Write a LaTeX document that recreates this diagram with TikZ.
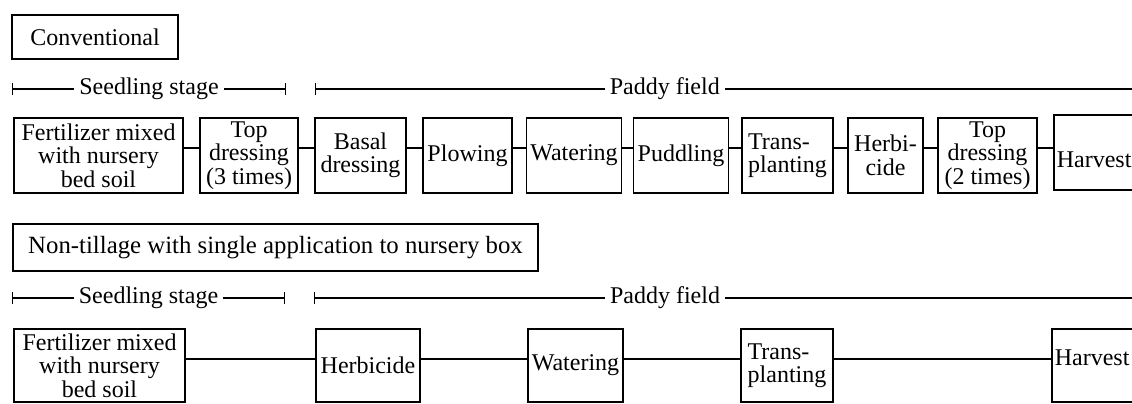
\documentclass[tikz,border=0pt]{standalone}
\usepackage{fontspec}
\setmainfont{Liberation Serif}
\usetikzlibrary{arrows.meta}

\tikzset{
  stepbox/.style={draw, line width=0.8pt, align=center, inner xsep=2pt, inner ysep=0.5pt,
    font=\fontsize{12}{11.75}\selectfont},
  titlebox/.style={draw, line width=0.8pt, inner sep=0pt,
    font=\fontsize{12}{11.75}\selectfont},
  span/.style={line width=0.6pt},
  spanlab/.style={fill=white, inner xsep=2.5pt, inner ysep=1pt,
    font=\fontsize{12}{11.75}\selectfont},
  link/.style={line width=0.7pt}
}

\begin{document}
\begin{tikzpicture}[x=0.5pt,y=-0.5pt]
    \useasboundingbox (0,0) rectangle (1132,403);
    \fill[white] (0,0) rectangle (1132,403);
    \clip (0,0) rectangle (1132,403);

    % Conventional
    \node[titlebox, minimum width=83pt, minimum height=22pt] (conv) at (95,37) {Conventional};
    % Stages
    \coordinate (sa1) at (12,89);
    \coordinate (sb1) at (286,89);
    \coordinate (pa1) at (315,89);
    \coordinate (pb1) at (1140,89);
    \draw[span, {Bar[width=6pt]}-{Bar[width=6pt]}] (sa1) -- node[spanlab] (seed1) {Seedling stage} (sb1);
    \draw[span, {Bar[width=6pt]}-] (pa1) -- node[spanlab, pos=0.424] (paddy1) {Paddy field} (pb1);
    % Steps
    \node[stepbox, minimum width=84.5pt, minimum height=37.5pt] (fert1) at (98.5,155.5) {Fertilizer mixed\\with nursery\\bed soil};
    \node[stepbox, minimum width=49pt, minimum height=37.5pt] (top1) at (249,155.5) {Top\\dressing\\(3 times)};
    \node[stepbox, minimum width=45.5pt, minimum height=37.5pt] (basal1) at (360.5,155.5) {Basal\\dressing};
    \node[stepbox, minimum width=44.5pt, minimum height=37.5pt] (plow1) at (467.5,155.5) {Plowing};
    \node[stepbox, minimum width=46pt, minimum height=37.5pt] (water1) at (574,155.5) {Watering};
    \node[stepbox, minimum width=46pt, minimum height=37.5pt] (puddle1) at (681,155.5) {Puddling};
    \node[stepbox, align=left, minimum width=45.5pt, minimum height=37.5pt] (trans1) at (787.5,155.5) {Trans-\\planting};
    \node[stepbox, minimum width=37.5pt, minimum height=37.5pt] (herb1) at (885.5,155.5) {Herbi-\\cide};
    \node[stepbox, minimum width=49.5pt, minimum height=37.5pt] (top2) at (987.5,155.5) {Top\\dressing\\(2 times)};
    \node[stepbox, anchor=west, inner xsep=1.5pt, text height=15.5pt, minimum width=48pt, minimum height=37.5pt] (harv1) at (1053,152.5) {Harvest\hspace{12pt}};
    \foreach \a/\b in {fert1/top1, top1/basal1, basal1/plow1, plow1/water1, water1/puddle1,
                       puddle1/trans1, trans1/herb1, herb1/top2, top2/harv1}
      \draw[link] ([yshift=3.75pt]\a.east) -- ([yshift=3.75pt]\a.east -| \b.west);

    % Non-tillage
    \node[titlebox, font=\fontsize{12.4}{11.75}\selectfont, minimum width=262.5pt, minimum height=23.5pt] (nontill) at (275.5,247.5) {Non-tillage with single application to nursery box};
    % Stages
    \coordinate (sa2) at (12,298);
    \coordinate (sb2) at (285,298);
    \coordinate (pa2) at (314,298);
    \coordinate (pb2) at (1140,298);
    \draw[span, {Bar[width=6pt]}-{Bar[width=6pt]}] (sa2) -- node[spanlab] (seed2) {Seedling stage} (sb2);
    \draw[span, {Bar[width=6pt]}-] (pa2) -- node[spanlab, pos=0.425] (paddy2) {Paddy field} (pb2);
    % Steps
    \node[stepbox, minimum width=85.5pt, minimum height=36.5pt] (fert2) at (99.5,365.5) {Fertilizer mixed\\with nursery\\bed soil};
    \node[stepbox, minimum width=52pt, minimum height=36.5pt] (herb2) at (368,365.5) {Herbicide};
    \node[stepbox, minimum width=47.5pt, minimum height=36.5pt] (water2) at (575.5,365.5) {Watering};
    \node[stepbox, align=left, minimum width=46pt, minimum height=36.5pt] (trans2) at (787,365.5) {Trans-\\planting};
    \node[stepbox, anchor=west, inner xsep=1.5pt, text depth=8pt, minimum width=48pt, minimum height=36.5pt] (harv2) at (1051,365.5) {Harvest\hspace{12pt}};
    \foreach \a/\b in {fert2/herb2, herb2/water2, water2/trans2, trans2/harv2}
      \draw[link] ([yshift=3.25pt]\a.east) -- ([yshift=3.25pt]\a.east -| \b.west);
\end{tikzpicture}
\end{document}
